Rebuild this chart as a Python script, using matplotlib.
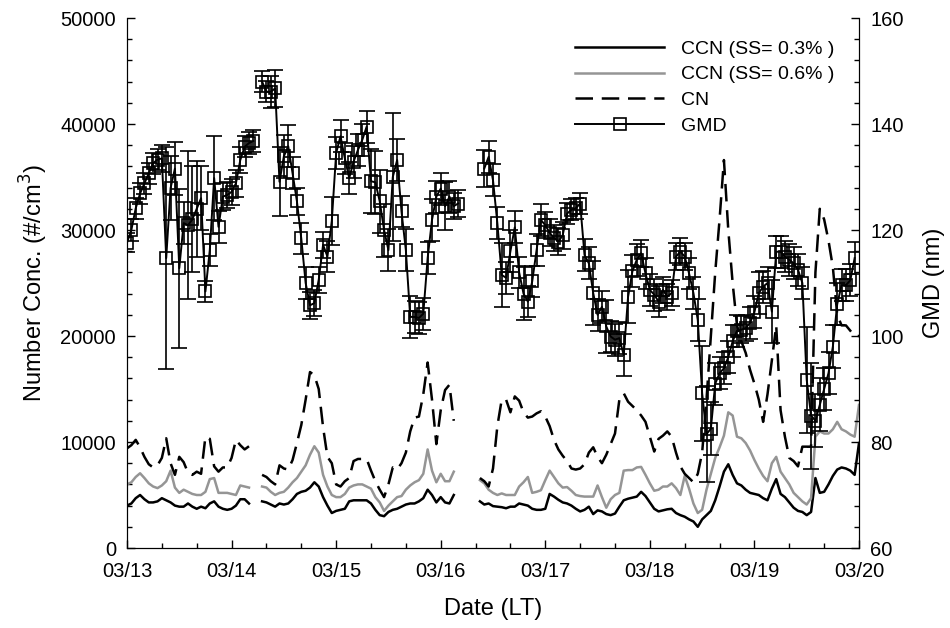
import numpy as np
import matplotlib.pyplot as plt
from matplotlib.ticker import MultipleLocator
from matplotlib.lines import Line2D

plt.rcParams['font.family'] = ['Liberation Sans', 'DejaVu Sans']

# hourly data, 03/13 00:00 -> 03/20 00:00 (169 points), None = no data
day_labels = ['03/13', '03/14', '03/15', '03/16', '03/17', '03/18', '03/19', '03/20']
hours = np.arange(169)

cn = [9400, 9700, 10200, 9500, 8600, 7900, 7600, 7800, 8500, 10350,
      8000, 6900, 8600, 8100, 7100, 6900, 7200, 7000, 10500, 10300,
      7700, 7200, 7600, 7600, 8500, 10200, 9700, 9300, 9600,
      None, None,
      6900, 6700, 6300, 6000, 7800, 7500, 7400, 8300, 9900, 11600,
      14000, 16600, 16300, 15000, 11400, 8600, 8000, 6000, 5800, 6300,
      6600, 8200, 8400, 8400, 8400, 7300, 6300, 5500, 4800, 6000,
      7600, 7400, 8000, 9000, 11000, 12300, 12400, 14500, 17500, 14000,
      9800, 13000, 14900, 15400, 12000,
      None, None, None, None, None,
      6600, 6300, 5800, 7500, 11500, 14000, 14000, 12800, 14300, 13900,
      12800, 12300, 12400, 12700, 12900, 12400, 11500, 10200, 9300, 8700,
      8200, 7500, 7400, 7500, 7900, 9000, 9500, 8600, 8000, 8800,
      9800, 10800, 14000, 14600, 13800, 13400, 13000, 12500, 11900, 10500,
      9100, 10300, 10600, 11000, 10500, 9000, 7700, 7000, 6600, 6200,
      7000, 9000, 14000, 20000, 26000, 31000, 36600, 30000, 25000, 21000,
      19500, 18400, 16800, 15500, 14000, 11900, 14500, 17700, 21000, 13000,
      10500, 8500, 8200, 7700, 9560, 9560, 9560, 26000, 32000, 31000,
      29000, 26500, 22000, 21000, 21000, 20500, 20000, 20000]

ccn06 = [6000, 6200, 6700, 7050, 6600, 6100, 5800, 5650, 5900, 6300,
         7300, 5700, 5200, 5500, 5300, 5100, 5000, 5000, 5300, 6500,
         6600, 5200, 5200, 5200, 5100, 5000, 5900, 5800, 5700,
         None, None,
         5800, 5700, 5300, 5000, 5200, 5300, 5700, 6200, 6600, 7200,
         7800, 8800, 9600, 9000, 6900, 5800, 5000, 4800, 4800, 5100,
         5700, 5900, 6000, 6000, 5800, 5600, 4800, 4300, 3500, 4000,
         4400, 4800, 4900, 5500, 5900, 6200, 6400, 7000, 9300, 7300,
         6200, 7000, 6300, 6300, 7200,
         None, None, None, None, None,
         6400, 6100, 5500, 5200, 5000, 5150, 5000, 5000, 5000, 5800,
         6200, 6700, 5200, 5300, 5450, 6400, 7300, 6700, 6100, 5700,
         5750, 5400, 5000, 4900, 4850, 4850, 4850, 5900, 4800, 3800,
         4600, 5000, 5200, 7300, 7350, 7350, 7600, 7650, 6900, 6100,
         5400, 5500, 5800, 5800, 6100, 5650, 5000, 6800, 5600, 4200,
         3300, 3600, 5500, 7000, 8500, 9500, 10600, 12800, 12500, 10500,
         10350, 9900, 9200, 8300, 7500, 6800, 6300, 8000, 8600, 7200,
         6600, 6000, 5200, 4800, 4400, 4100, 4700, 10500, 11000, 10800,
         10800, 11200, 11900, 11200, 11000, 10700, 10500, 13500]

ccn03 = [4000, 4200, 4700, 5000, 4600, 4300, 4300, 4400, 4700, 4500,
         4300, 4000, 3900, 3900, 4200, 3900, 3700, 3900, 3750, 4200,
         4400, 3900, 3700, 3600, 3700, 4000, 4600, 4600, 4200,
         None, None,
         4400, 4300, 4100, 3900, 4200, 4100, 4200, 4600, 5100, 5300,
         5400, 5700, 6200, 5800, 4800, 4000, 3300, 3500, 3600, 3700,
         4400, 4500, 4500, 4500, 4500, 4200, 3600, 3100, 3000, 3400,
         3600, 3700, 3900, 4100, 4200, 4200, 4400, 4700, 5500, 5000,
         4300, 4800, 4300, 4200, 5000,
         None, None, None, None, None,
         4400, 4100, 4200, 3950, 3900, 3850, 3750, 3900, 3900, 4200,
         4100, 4000, 3700, 3600, 3600, 3700, 5100, 4850, 4550, 4300,
         4200, 4000, 3700, 3450, 3600, 3900, 3200, 3550, 3450, 3200,
         3100, 3250, 3900, 4500, 4650, 4750, 4850, 5300, 4900, 4300,
         3700, 3450, 3550, 3650, 3700, 3300, 3100, 2950, 2700, 2500,
         2000, 2700, 3100, 3500, 4500, 5800, 7200, 7900, 6900, 6100,
         5900, 5500, 5200, 5100, 5000, 4700, 4500, 5600, 6500, 5100,
         4800, 4300, 3800, 3500, 3400, 3100, 3400, 6600, 5200, 5300,
         6000, 6800, 7400, 7600, 7500, 7300, 6900, 9900]

gmd = [117.6, 120.0, 124.1, 126.9, 128.8, 130.7, 132.6, 133.3, 133.5, 114.7,
       127.9, 131.6, 112.8, 121.3, 120.9, 122.0, 124.0, 126.0, 108.4, 116.2,
       129.8, 120.6, 126.3, 126.6, 127.2, 128.8, 133.2, 135.7, 136.4, 136.8,
       None,
       148.0, 146.1, 146.1, 146.7, 129.1, 133.9, 135.8, 130.7, 125.4, 118.4,
       110.0, 105.8, 106.2, 110.6, 117.2, 115.0, 121.7, 134.5, 137.7, 133.5,
       129.8, 132.9, 135.1, 137.0, 139.5, 129.2, 129.0, 125.4, 120.0, 116.2,
       130.0, 133.2, 123.5, 116.2, 103.6, 103.6, 103.4, 104.2, 114.7, 121.9,
       126.3, 127.8, 124.5, 126.3, 124.5, 125.0,
       None, None, None, None, None,
       131.6, 133.8, 129.4, 121.3, 111.5, 111.0, 116.0, 120.5, 112.0, 108.0,
       106.5, 110.3, 116.2, 121.9, 120.9, 119.5, 118.5, 117.8, 119.0, 123.1,
       123.8, 124.1, 125.0, 115.3, 113.7, 108.1, 104.0, 105.5, 101.8, 99.9,
       99.3, 99.6, 96.4, 107.4, 112.2, 114.4, 115.6, 111.8, 108.7, 107.8,
       106.5, 108.7, 107.4, 108.1, 115.0, 115.9, 115.0, 111.8, 108.1, 103.0,
       89.2, 81.5, 82.5, 91.0, 93.0, 93.9, 96.0, 99.0, 101.0, 101.2,
       101.5, 102.5, 104.5, 108.1, 109.3, 110.0, 104.6, 115.9, 115.9, 115.0,
       114.4, 113.7, 112.5, 110.0, 91.7, 85.0, 84.0, 87.0, 90.0, 93.0,
       98.0, 106.0, 109.6, 109.6, 110.5, 114.7,
       None]

gmd_err = [1.8, 2, 2, 2, 2, 2, 2, 2, 2.5, 21,
           6, 5, 15, 4, 14, 10, 9, 6, 2, 3,
           8, 3, 2.5, 2.5, 2.5, 2.5, 2.5, 2, 2, 2,
           None,
           2, 2, 3, 3.5, 6.5, 4, 4, 3, 2.5, 3,
           3, 2.5, 2.5, 2.5, 2.5, 3, 4.5, 3, 3, 3,
           3, 3, 3, 3, 3, 6, 6, 6, 5, 4,
           12, 4, 3, 4, 4, 3, 3, 3, 3, 4,
           3, 3, 4.5, 3, 2.5, 2.5,
           None, None, None, None, None,
           3.5, 3, 3, 3, 6, 3, 4, 3, 3, 5,
           3, 3, 3, 3, 2.5, 2.5, 2.5, 2.5, 2.5, 2,
           2, 2, 2, 3, 3, 6, 3, 3, 5, 3,
           3, 3, 4, 5, 3, 3, 2.5, 3, 3, 3,
           3, 2.5, 2.5, 2.5, 2.5, 2.5, 2.5, 3, 3, 4,
           9, 9, 5, 4, 3, 3, 3, 3, 3, 2.5,
           2.5, 3, 3, 4, 3, 3, 6, 3, 3, 3,
           3, 3, 3, 3, 10, 10, 5, 5, 4, 4,
           4, 4, 3, 3, 3, 3,
           None]


def arr(v):
    return np.array([np.nan if a is None else a for a in v], dtype=float)


x = hours / 24.0

fig = plt.figure(figsize=(9.5, 6.28), dpi=100)
ax = fig.add_axes([127/950, 1 - 548/628, (859-127)/950, (548-18)/628])
ax.plot(x, arr(ccn03), color='black', lw=1.8)
ax.plot(x, arr(ccn06), color='#959595', lw=1.8)
ax.plot(x, arr(cn), color='black', lw=1.8, dashes=(7, 3.5))

ax2 = ax.twinx()
ax2.errorbar(x, arr(gmd), yerr=arr(gmd_err), color='black', lw=1.4,
             marker='s', ms=8, mfc='none', mec='black', mew=1.2,
             ecolor='black', elinewidth=1.2, capsize=5.5, capthick=1.2)

ax.set_xlim(0, 7)
ax.set_ylim(0, 50000)
ax2.set_ylim(60, 160)
ax.set_xticks(range(8))
ax.set_xticklabels(day_labels)
ax.xaxis.set_minor_locator(MultipleLocator(1/3))
ax.yaxis.set_major_locator(MultipleLocator(10000))
ax.yaxis.set_minor_locator(MultipleLocator(2000))
ax2.yaxis.set_major_locator(MultipleLocator(20))
ax2.yaxis.set_minor_locator(MultipleLocator(4))

for a in (ax, ax2):
    a.spines['top'].set_visible(False)
    a.tick_params(which='both', direction='in', labelsize=14.5, pad=8, width=1)
    a.tick_params(which='major', length=6)
    a.tick_params(which='minor', length=3.5)
ax.tick_params(axis='x', pad=10)
ax.tick_params(top=False, right=False, which='both')
ax2.tick_params(top=False, left=False, which='both')

ax.set_xlabel('Date (LT)', fontsize=17, labelpad=12)
ax.set_ylabel('Number Conc. (#/cm$^3$)', fontsize=17, labelpad=7)
ax2.set_ylabel('GMD (nm)', fontsize=17, labelpad=14)

handles = [Line2D([], [], color='black', lw=1.8),
           Line2D([], [], color='#959595', lw=1.8),
           Line2D([], [], color='black', lw=1.8, dashes=(7, 3.5)),
           Line2D([], [], color='black', lw=1.4, marker='s', ms=8,
                  mfc='none', mec='black', mew=1.2)]
names = ['CCN (SS= 0.3% )', 'CCN (SS= 0.6% )', 'CN', 'GMD']
ax2.legend(handles, names, loc='upper left', bbox_to_anchor=(575/950, 1 - 40/628),
           bbox_transform=fig.transFigure, frameon=False, fontsize=14,
           handlelength=4.6, handletextpad=0.85, labelspacing=0.42,
           borderpad=0, borderaxespad=0, numpoints=1)

fig.savefig('out.png', dpi=100)
